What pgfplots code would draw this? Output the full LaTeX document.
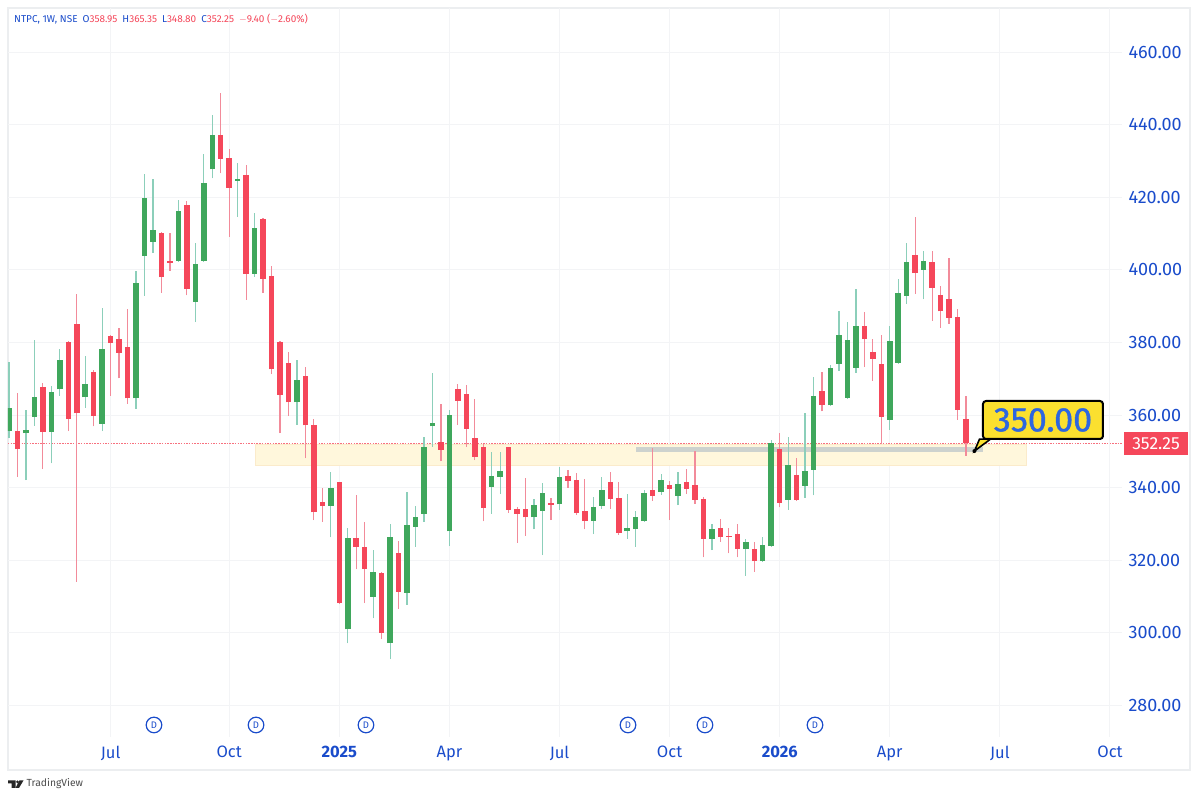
\documentclass[border=0pt]{standalone}
\usepackage{fontspec}
\setmainfont{Fira Sans}
\newfontfamily\calloutfont[FakeBold=1.2]{Fira Sans}
\usepackage{pgfplots}
\usepackage{pgfplotstable}
\pgfplotsset{compat=1.18}

\definecolor{tvblue}{HTML}{1A4CCB}
\definecolor{upbody}{HTML}{3FA75C}
\definecolor{upwick}{HTML}{8CCFBA}
\definecolor{dnbody}{HTML}{F5475A}
\definecolor{dnwick}{HTML}{F28B9A}
\definecolor{gridc}{HTML}{F3F4F6}
\definecolor{framec}{HTML}{ECEEF0}
\definecolor{zonefill}{HTML}{FFF7DC}
\definecolor{zoneedge}{HTML}{FBEBCB}
\definecolor{levelc}{HTML}{CDD2CE}
\definecolor{callout}{HTML}{FBE02F}
\definecolor{calltext}{HTML}{2D66E0}
\definecolor{lastline}{HTML}{F7707E}

% weekly candles, i = week index
\pgfplotstableread{
i o h l c
0 355.7 374.7 353.6 361.9
2 355.0 361.4 342.1 355.9
3 359.6 380.7 357.1 364.9
5 355.4 368.0 346.7 366.3
6 367.1 378.1 365.3 375.1
9 364.9 376.4 362.0 368.5
11 357.6 389.4 355.6 378.3
15 364.6 399.6 361.8 396.3
16 403.9 426.4 392.9 419.9
17 407.7 425.1 404.7 410.9
20 402.5 419.3 402.3 416.3
22 391.2 407.3 385.6 401.6
23 402.5 431.9 402.3 424.0
24 427.7 442.8 425.2 437.2
27 424.6 429.5 414.7 425.1
29 399.0 415.6 398.1 411.5
34 363.5 375.2 357.3 369.6
38 335.0 344.4 326.3 339.9
40 301.0 328.8 297.1 326.1
43 310.0 322.8 304.0 316.8
45 297.2 329.9 292.8 326.3
47 311.1 338.8 307.7 329.6
48 329.3 335.0 323.7 331.8
49 332.8 353.9 330.6 351.3
50 356.9 371.5 351.3 357.7
52 328.0 361.4 323.9 360.0
57 340.3 349.8 332.8 343.1
58 343.0 349.8 338.3 344.5
62 331.8 336.8 328.5 335.2
63 333.7 341.2 321.4 338.5
65 335.4 345.6 333.9 342.9
69 330.8 337.5 327.2 334.7
70 335.0 343.0 334.2 339.3
73 328.0 338.2 326.0 328.8
74 328.6 333.6 323.7 331.8
75 330.8 339.4 330.6 338.6
77 338.9 343.8 338.0 342.1
79 337.8 344.2 335.2 341.0
83 326.0 330.0 322.8 328.5
87 323.1 325.8 315.7 325.0
89 319.8 326.5 319.6 324.1
90 323.9 353.1 323.7 352.2
92 336.7 353.9 333.9 346.3
94 340.6 360.7 337.2 344.7
95 344.9 370.6 337.9 365.2
97 362.7 373.7 362.5 373.1
98 374.1 388.7 372.2 382.1
99 364.8 385.6 364.4 380.8
100 373.0 394.7 371.7 384.5
104 358.7 384.5 355.9 380.3
105 374.4 397.5 374.2 393.7
106 392.9 407.3 390.7 402.1
108 400.1 405.2 391.9 402.4
}\upcandles

\pgfplotstableread{
i o h l c
1 355.5 366.0 343.0 350.6
4 367.7 368.9 345.1 355.4
7 380.1 380.5 355.6 358.9
8 385.2 393.3 314.1 360.5
10 371.8 372.4 356.9 359.8
12 381.9 382.1 365.3 379.8
13 381.0 383.9 370.1 377.2
14 378.8 389.1 363.1 364.6
18 410.2 410.4 393.7 398.0
19 402.5 410.2 399.8 401.9
21 417.8 419.1 393.0 394.7
25 437.2 448.7 426.6 430.6
26 430.8 433.2 409.1 422.6
28 426.1 428.8 391.8 399.0
30 414.0 414.3 393.7 397.6
31 398.3 401.1 371.3 372.6
32 380.1 380.3 355.0 365.6
33 374.3 377.3 359.8 363.5
35 370.9 373.3 348.1 357.2
36 357.3 358.8 331.1 333.2
37 336.1 339.8 330.6 335.0
39 341.6 341.7 307.9 308.2
41 326.1 338.1 317.5 323.6
42 323.7 330.6 308.2 317.7
44 316.4 316.8 298.3 300.1
46 322.1 325.4 306.7 311.3
51 352.5 363.0 347.3 350.4
53 367.2 368.6 357.3 364.0
54 365.8 368.3 351.3 356.3
55 353.7 364.4 347.6 348.5
56 351.1 352.0 330.7 334.5
59 351.1 351.2 333.1 333.9
60 334.0 334.8 324.8 332.8
61 334.0 342.6 326.7 331.8
64 335.8 337.2 331.1 335.3
66 343.1 344.9 340.0 341.9
67 342.1 344.1 332.6 333.0
68 333.6 342.3 328.5 330.8
71 341.5 344.3 334.2 337.0
72 337.1 341.5 327.0 327.5
76 339.3 350.9 336.4 337.8
78 340.7 341.8 331.1 339.6
80 341.6 345.2 338.3 339.6
81 340.7 350.1 335.6 336.7
82 336.9 337.4 320.8 326.0
84 328.9 331.4 325.1 326.4
85 326.8 328.8 321.9 326.4
86 327.2 330.0 320.8 323.1
88 323.0 325.1 316.9 319.8
91 350.6 355.0 334.6 335.9
93 343.5 348.3 336.4 336.6
96 366.7 372.0 361.0 362.9
101 384.5 388.4 373.2 380.9
102 377.3 381.0 369.5 375.5
103 374.2 382.1 352.0 359.6
107 404.0 414.5 393.4 399.1
109 402.1 405.2 386.0 395.1
110 393.1 395.6 384.1 388.6
111 392.0 403.2 385.2 386.8
112 386.9 389.1 358.7 361.5
113 358.95 365.35 348.80 352.25
}\dncandles

\begin{document}
\begin{tikzpicture}[x=1pt,y=1pt]
\useasboundingbox (0,0) rectangle (1200,798);
\fill[white] (0,0) rectangle (1200,798);
\draw[framec, line width=1.5pt] (8,28) rectangle (1190,790);

\begin{axis}[
    at={(8pt,61pt)}, anchor=south west,
    scale only axis, width=1114pt, height=729pt,
    xmin=-0.118, xmax=131.42, ymin=271.32, ymax=472.15,
    axis line style={draw=none}, tick style={draw=none},
    clip mode=individual,
    grid=major, grid style={gridc, line width=1pt},
    xtick={12,26,39,52,65,78,91,104,117,130},
    xticklabels={Jul,Oct,\textbf{2025},Apr,Jul,Oct,\textbf{2026},Apr,Jul,Oct},
    xticklabel style={font=\fontsize{16.5}{18}\selectfont, text=tvblue, yshift=-5.5pt},
    ytick={280,300,...,460},
    yticklabel pos=right,
    yticklabel style={font=\fontsize{18}{20}\selectfont, text=tvblue, anchor=west, xshift=3pt,
      /pgf/number format/.cd, fixed, fixed zerofill, precision=2, 1000 sep={}, assume math mode=true},
]
% support zone and level
\addplot[fill=zonefill, draw=zoneedge, line width=1pt]
    coordinates {(29.05,352.0) (120.1,352.0) (120.1,346.2) (29.05,346.2)} -- cycle;
\addplot[draw=levelc, line width=5pt] coordinates {(74.04,350.4) (115,350.4)};
% last price line
\addplot[draw=lastline, dash pattern=on 1.5pt off 1.2pt, line width=1pt, mark=none]
    coordinates {(-0.118,352.25) (131.42,352.25)};

% wicks
\addplot[draw=none, mark=none, error bars/.cd, y dir=plus, y explicit, error mark=none,
    error bar style={upwick, line width=1.2pt, solid}]
    table[x=i, y=l, y error plus expr=\thisrow{h}-\thisrow{l}] {\upcandles};
\addplot[draw=none, mark=none, error bars/.cd, y dir=plus, y explicit, error mark=none,
    error bar style={dnwick, line width=1.2pt, solid}]
    table[x=i, y=l, y error plus expr=\thisrow{h}-\thisrow{l}] {\dncandles};
% bodies
\addplot[draw=none, mark=none, error bars/.cd, y dir=plus, y explicit, error mark=none,
    error bar style={upbody, line width=5.5pt, solid}]
    table[x=i, y=o, y error plus expr=\thisrow{c}-\thisrow{o}] {\upcandles};
\addplot[draw=none, mark=none, error bars/.cd, y dir=plus, y explicit, error mark=none,
    error bar style={dnbody, line width=5.5pt, solid}]
    table[x=i, y=c, y error plus expr=\thisrow{o}-\thisrow{c}] {\dncandles};

% dividend markers
\addplot[only marks, mark=*, mark size=7.8pt, mark options={draw=tvblue, fill=white, line width=1.2pt},
    nodes near coords={D},
    every node near coord/.style={anchor=center, font=\fontsize{9.5}{10}\selectfont, text=tvblue}]
    coordinates {(17.12,274.63) (29.17,274.63) (42.15,274.63) (73.09,274.63) (82.18,274.63) (95.17,274.63)};

% callout
\fill[black] (axis cs:114.0,350.1) circle (2pt);
\filldraw[fill=callout, draw=black, line width=1.6pt]
    (axis cs:115.9,353.4) -- (axis cs:114.0,350.1) -- (axis cs:114.6,353.4) -- cycle;
\node[fill=callout, draw=black, line width=2pt, rounded corners=3pt,
      minimum width=120pt, minimum height=38pt, inner sep=0pt,
      font=\calloutfont\fontsize{34}{36}\selectfont, text=calltext]
    at (axis cs:122.09,358.65) {350.00};
% last price tag
\node[fill=dnbody, minimum width=64pt, minimum height=23pt, inner sep=0pt,
      font=\fontsize{17.5}{19}\selectfont, text=white]
    at (axis cs:135.44,352.2) {352.25};
\end{axis}

% header
\node[anchor=west, inner sep=0pt, font=\fontsize{10}{12}\selectfont, text=tvblue] at (14,779)
  {NTPC, 1W, NSE\hspace{5pt}O\textcolor{dnbody}{358.95}\hspace{5pt}H\textcolor{dnbody}{365.35}\hspace{5pt}L\textcolor{dnbody}{348.80}\hspace{5pt}C\textcolor{dnbody}{352.25}\hspace{5pt}\textcolor{dnbody}{$-$9.40 ($-$2.60\%)}};
% logo
\fill[black!85] (8,17.5) -- (15.5,17.5) -- (15.5,10) -- (11.5,10) -- (11.5,14.5) -- (8,14.5) -- cycle;
\fill[black!85] (17.6,16) circle (1.6);
\fill[black!85] (19.5,17.5) -- (23.5,17.5) -- (19,10) -- (15.5,10) -- cycle;
\node[anchor=west, inner sep=0pt, font=\fontsize{10.3}{12}\selectfont, text=black!70] at (26.5,14) {TradingView};
\end{tikzpicture}
\end{document}
